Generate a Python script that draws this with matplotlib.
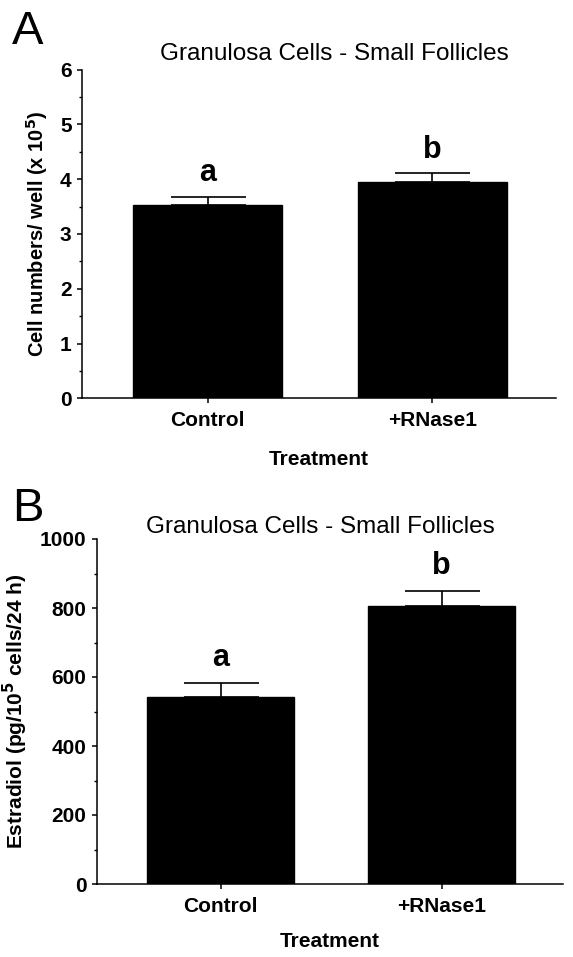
import matplotlib
matplotlib.use("Agg")
import matplotlib.pyplot as plt
from matplotlib.ticker import MultipleLocator

plt.rcParams['font.family'] = ['Liberation Sans', 'DejaVu Sans']

categories = ["Control", "+RNase1"]
cells_mean = [3.53, 3.95]
cells_err = [0.15, 0.16]
cells_letters = ["a", "b"]
e2_mean = [543, 807]
e2_err = [40, 42]
e2_letters = ["a", "b"]

title = "Granulosa Cells - Small Follicles"

fig = plt.figure(figsize=(5.73, 9.57), dpi=100)
W, H = 573, 957

def make_axes(left, right, top, bottom):
    return fig.add_axes([left / W, 1 - bottom / H, (right - left) / W, (bottom - top) / H])

axA = make_axes(82, 556, 69.5, 398.3)
axB = make_axes(97, 563, 539, 884)

def style(ax, means, errs, letters, ymax, major, minor, ylabel, ylab_size, letter_off, xlab_pad):
    x = list(range(len(categories)))
    ax.bar(x, means, width=0.665, color='black', edgecolor='black', zorder=2)
    ax.errorbar(x, means, yerr=[[0] * len(errs), errs], fmt='none', ecolor='black',
                elinewidth=1.2, capsize=27, capthick=1.2, zorder=1)
    for xi, m, e, t in zip(x, means, errs, letters):
        ax.annotate(t, (xi, m + e), xytext=(0, letter_off), textcoords='offset points',
                    ha='center', va='baseline', fontsize=22, fontweight='bold')
    ax.set_xlim(-0.56, 1.55)
    ax.set_ylim(0, ymax)
    ax.yaxis.set_major_locator(MultipleLocator(major))
    ax.yaxis.set_minor_locator(MultipleLocator(minor))
    ax.set_xticks(x)
    ax.set_xticklabels(categories, fontsize=15, fontweight='bold')
    ax.tick_params(axis='y', which='major', length=3.5, width=1.1, labelsize=15, pad=4)
    ax.tick_params(axis='y', which='minor', length=2, width=1.0)
    ax.tick_params(axis='x', which='major', length=3.5, width=1.1, pad=6)
    for s in ['top', 'right']:
        ax.spines[s].set_visible(False)
    for s in ['left', 'bottom']:
        ax.spines[s].set_linewidth(1.1)
    ax.set_xlabel("Treatment", fontsize=15, fontweight='bold', labelpad=xlab_pad)
    ax.set_ylabel(ylabel, fontsize=ylab_size, fontweight='bold', labelpad=7)
    for lab in ax.get_yticklabels():
        lab.set_fontweight('bold')

style(axA, cells_mean, cells_err, cells_letters, 6, 1, 0.5,
      r"Cell numbers/ well (x 10$^{\mathbf{5}}$)", 14.5, 11, 14)
style(axB, e2_mean, e2_err, e2_letters, 1000, 200, 100,
      r"Estradiol (pg/10$^{\mathbf{5}}$ cells/24 h)", 15, 12, 11.5)

fig.text(334.5 / W, 1 - 54 / H, title, ha='center', va='center', fontsize=17.5)
fig.text(320.5 / W, 1 - 527 / H, title, ha='center', va='center', fontsize=17.5)
fig.text(12 / W, 1 - 44 / H, "A", ha='left', va='baseline', fontsize=34)
fig.text(12 / W, 1 - 521 / H, "B", ha='left', va='baseline', fontsize=34)

fig.savefig("out.png", dpi=100, facecolor='white')
